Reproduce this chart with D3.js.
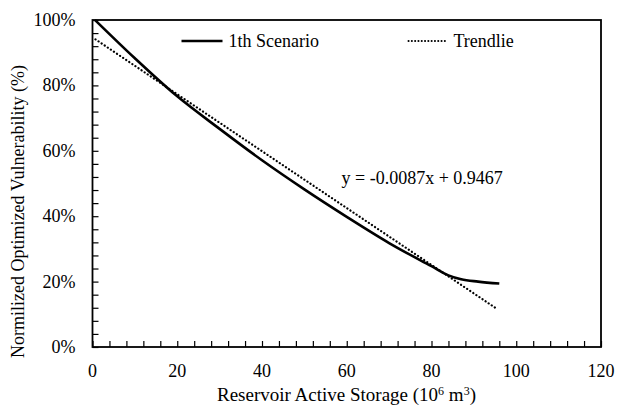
<!DOCTYPE html>
<html>
<head>
<meta charset="utf-8">
<script src="https://cdn.jsdelivr.net/npm/d3@7"></script>
<style>
  body { margin: 0; background: #fff; }
</style>
</head>
<body>
<div id="chart"></div>
<script>
// 1th scenario curve (storage, vulnerability)
var storage = [0.6, 10, 19.5, 30, 40, 50, 60, 70, 80, 84, 87, 91, 96];
var vulnerability = [1.00, 0.883, 0.772, 0.667, 0.571, 0.482, 0.398, 0.318, 0.247, 0.219, 0.207, 0.200, 0.194];
// trendline y = -0.0087x + 0.9467
var trendX = [0.7, 95.5];
var trendY = [0.941, 0.116];
var xTicks = [0, 20, 40, 60, 80, 100, 120];
var yTicks = [0, 0.2, 0.4, 0.6, 0.8, 1.0];

var fontFam = "'Liberation Serif', 'Times New Roman', serif";

const W = 617, H = 408;
const margin = {top: 20, right: 16, bottom: 61, left: 92.5},
      width = W - margin.left - margin.right,
      height = H - margin.top - margin.bottom;

var svg = d3.select("#chart")
  .append("svg")
  .attr("width", W)
  .attr("height", H)
  .attr("font-family", fontFam)
  .append("g")
  .attr("transform", "translate(" + margin.left + "," + margin.top + ")");

var x = d3.scaleLinear().domain([0, 120]).range([0, width]);
var y = d3.scaleLinear().domain([0, 1]).range([height, 0]);

// minor ticks, pointing inward
var xAxis = d3.axisTop(x).tickValues(d3.range(0, 121, 4)).tickSize(6).tickFormat("");
var yAxis = d3.axisRight(y).tickValues(d3.range(0, 1.001, 0.04)).tickSize(6).tickFormat("");

svg.append("g")
  .attr("class", "axis axis-x")
  .attr("transform", "translate(0," + height + ")")
  .call(xAxis)
  .call(function(g) { g.select(".domain").remove(); })
  .selectAll("line").attr("stroke", "#000").attr("stroke-width", 1.2);

svg.append("g")
  .attr("class", "axis axis-y")
  .call(yAxis)
  .call(function(g) { g.select(".domain").remove(); })
  .selectAll("line").attr("stroke", "#000").attr("stroke-width", 1.2);

// frame
svg.append("rect")
  .attr("width", width)
  .attr("height", height)
  .attr("fill", "none")
  .attr("stroke", "#000")
  .attr("stroke-width", 1.8);

// tick labels
svg.selectAll(".xlabel").data(xTicks)
  .enter().append("text")
  .attr("class", "xlabel")
  .attr("x", function(d) { return x(d); })
  .attr("y", height + 30)
  .attr("text-anchor", "middle")
  .attr("font-family", fontFam)
  .attr("font-size", 18)
  .text(function(d) { return d; });

svg.selectAll(".ylabel").data(yTicks)
  .enter().append("text")
  .attr("class", "ylabel")
  .attr("x", -17)
  .attr("y", function(d) { return y(d) + 6; })
  .attr("text-anchor", "end")
  .attr("font-family", fontFam)
  .attr("font-size", 18)
  .text(function(d) { return Math.round(d * 100) + "%"; });

// axis titles
var xt = svg.append("text")
  .attr("x", 254)
  .attr("y", height + 54)
  .attr("text-anchor", "middle")
  .attr("font-family", fontFam)
  .attr("font-size", 19);
xt.append("tspan").text("Reservoir Active Storage (10");
xt.append("tspan").attr("dy", -6).attr("font-size", 12).text("6");
xt.append("tspan").attr("dy", 6).text(" m");
xt.append("tspan").attr("dy", -6).attr("font-size", 12).text("3");
xt.append("tspan").attr("dy", 6).text(")");

svg.append("text")
  .attr("transform", "translate(" + (-69) + "," + (height / 2 + 28) + ") rotate(-90)")
  .attr("text-anchor", "middle")
  .attr("font-family", fontFam)
  .attr("font-size", 18)
  .text("Normilized Optimized Vulnerability (%)");

// data lines
var curve = storage.map(function(d, i) { return {k: d, v: vulnerability[i]}; });
var trend = trendX.map(function(d, i) { return {k: d, v: trendY[i]}; });

var line = d3.line()
  .curve(d3.curveMonotoneX)
  .x(function(d) { return x(d.k); })
  .y(function(d) { return y(d.v); });

svg.append("path")
  .datum(trend)
  .attr("fill", "none")
  .attr("stroke", "#000")
  .attr("stroke-width", 2.2)
  .attr("stroke-dasharray", "0.1,3.6")
  .attr("stroke-linecap", "round")
  .attr("d", line);

svg.append("path")
  .datum(curve)
  .attr("fill", "none")
  .attr("stroke", "#000")
  .attr("stroke-width", 2.6)
  .attr("d", line);

// equation
svg.append("text")
  .attr("x", 249)
  .attr("y", 164)
  .attr("font-family", fontFam)
  .attr("font-size", 18)
  .text("y = -0.0087x + 0.9467");

// legend
var legend = svg.append("g").attr("transform", "translate(0,21)");
legend.append("line")
  .attr("x1", 89).attr("x2", 130).attr("y1", 0).attr("y2", 0)
  .attr("stroke", "#000").attr("stroke-width", 2.6);
legend.append("text")
  .attr("x", 136).attr("y", 6)
  .attr("font-family", fontFam)
  .attr("font-size", 18)
  .text("1th Scenario");
legend.append("line")
  .attr("x1", 316).attr("x2", 355).attr("y1", 0).attr("y2", 0)
  .attr("stroke", "#000").attr("stroke-width", 2)
  .attr("stroke-dasharray", "0.1,3.2").attr("stroke-linecap", "round");
legend.append("text")
  .attr("x", 361).attr("y", 6)
  .attr("font-family", fontFam)
  .attr("font-size", 18)
  .text("Trendlie");
</script>
</body>
</html>
